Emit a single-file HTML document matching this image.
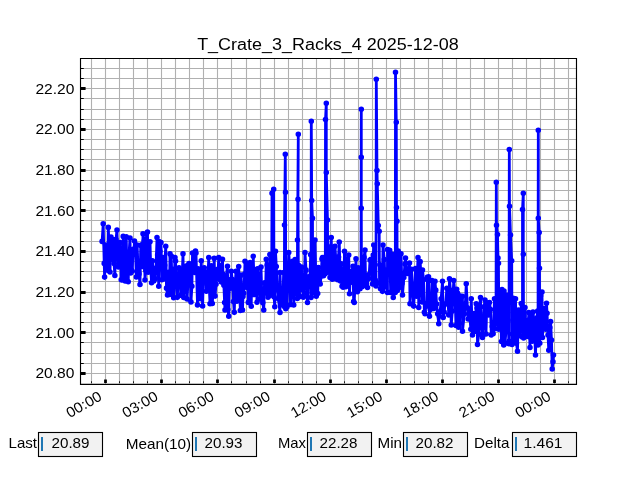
<!DOCTYPE html>
<html><head><meta charset="utf-8"><title>T_Crate_3_Racks_4 2025-12-08</title><style>
html,body{margin:0;padding:0;background:#fff;}
body{width:640px;height:480px;overflow:hidden;position:relative;font-family:"Liberation Sans",sans-serif;}
svg{position:absolute;left:0;top:0;display:block;will-change:transform;}
text{font-family:"Liberation Sans",sans-serif;fill:#000;}
</style></head><body>
<svg width="640" height="480" viewBox="0 0 640 480">
<rect x="0" y="0" width="640" height="480" fill="#fff"/>
<path d="M80 68.5H576M80 78.5H576M80 88.5H576M80 98.5H576M80 109.5H576M80 119.5H576M80 129.5H576M80 139.5H576M80 149.5H576M80 159.5H576M80 170.5H576M80 180.5H576M80 190.5H576M80 200.5H576M80 210.5H576M80 220.5H576M80 231.5H576M80 241.5H576M80 251.5H576M80 261.5H576M80 271.5H576M80 281.5H576M80 292.5H576M80 302.5H576M80 312.5H576M80 322.5H576M80 332.5H576M80 342.5H576M80 353.5H576M80 363.5H576M80 373.5H576M91.5 58V384M105.5 58V384M119.5 58V384M133.5 58V384M147.5 58V384M161.5 58V384M175.5 58V384M189.5 58V384M203.5 58V384M217.5 58V384M231.5 58V384M246.5 58V384M260.5 58V384M274.5 58V384M288.5 58V384M302.5 58V384M316.5 58V384M330.5 58V384M344.5 58V384M358.5 58V384M372.5 58V384M386.5 58V384M400.5 58V384M414.5 58V384M428.5 58V384M442.5 58V384M456.5 58V384M470.5 58V384M484.5 58V384M498.5 58V384M512.5 58V384M526.5 58V384M540.5 58V384M554.5 58V384M568.5 58V384" stroke="#b0b0b0" stroke-width="1.11" fill="none"/>
<g><path d="M102.10 241.40 L103.20 223.80 L104.20 263.40 L104.60 277.10 L105.60 245.00 L106.80 262.00 L107.60 270.30 L108.30 227.40 L109.20 250.00 L110.00 272.00 L111.00 237.09 L111.86 259.23 L112.94 239.60 L114.01 263.44 L114.87 275.54 L115.91 239.55 L117.00 230.00 L117.66 253.73 L118.45 267.03 L119.33 263.80 L120.17 242.60 L121.23 279.87 L122.50 280.00 L123.21 236.40 L124.17 256.80 L125.13 280.89 L126.25 236.75 L126.84 267.78 L128.25 281.75 L128.84 256.89 L130.00 238.00 L130.68 272.88 L131.52 270.17 L132.27 271.24 L133.04 249.31 L133.96 250.89 L134.50 241.00 L135.57 254.59 L136.34 276.97 L137.14 245.11 L138.10 269.57 L138.96 273.90 L140.00 284.50 L140.74 245.40 L141.48 244.81 L142.37 266.42 L143.00 233.75 L144.18 240.97 L145.00 280.00 L145.78 270.52 L146.50 233.44 L147.50 232.00 L148.15 272.30 L149.04 269.75 L150.03 241.70 L150.78 270.54 L151.56 282.75 L152.43 260.90 L153.75 281.00 L154.23 269.24 L155.23 278.88 L155.99 268.00 L157.00 237.50 L157.63 254.89 L158.75 286.25 L159.14 241.60 L159.87 251.19 L161.00 242.50 L161.88 279.83 L162.79 257.55 L163.77 278.88 L164.65 265.30 L165.75 246.25 L166.50 288.15 L167.50 295.00 L168.41 272.26 L169.44 294.38 L170.00 253.75 L171.29 255.98 L172.14 292.82 L172.93 269.24 L173.67 297.79 L175.00 257.50 L175.56 260.94 L176.38 282.73 L177.31 297.36 L178.21 280.46 L179.04 267.90 L179.82 269.32 L180.76 295.21 L181.80 284.16 L183.00 253.75 L183.75 297.50 L184.38 290.66 L185.22 267.79 L186.03 265.91 L187.09 298.94 L187.95 283.57 L188.99 263.43 L190.03 265.48 L190.99 301.97 L191.91 286.34 L192.50 253.00 L193.88 267.96 L194.72 272.54 L195.51 251.08 L196.00 253.00 L197.50 305.00 L198.10 268.90 L199.12 291.52 L200.13 298.80 L201.25 260.75 L201.78 284.75 L202.61 305.92 L203.39 275.73 L204.24 267.79 L205.32 271.83 L206.32 291.23 L207.39 287.91 L208.75 257.50 L209.34 289.17 L210.00 303.75 L211.34 265.85 L212.31 303.59 L213.16 290.48 L214.22 258.39 L215.08 296.12 L216.05 284.34 L217.02 269.41 L217.87 275.62 L218.75 257.50 L219.64 279.56 L220.37 265.70 L221.39 282.09 L222.50 259.25 L222.99 274.28 L223.86 285.20 L224.59 302.47 L225.00 310.00 L226.19 276.21 L227.50 266.25 L227.87 309.52 L228.75 316.25 L229.54 279.79 L230.62 288.29 L231.25 271.25 L232.39 279.62 L233.44 301.42 L234.28 312.35 L235.22 282.68 L236.00 271.25 L236.91 301.23 L237.79 297.01 L238.71 266.55 L239.44 288.33 L240.34 310.53 L241.09 275.13 L242.50 310.00 L242.99 296.40 L243.76 293.20 L244.58 274.06 L245.00 261.25 L246.46 287.37 L247.44 263.14 L248.31 302.40 L249.33 282.34 L250.16 262.45 L251.25 306.25 L251.82 267.08 L252.57 294.53 L253.25 256.25 L254.43 294.43 L255.19 269.74 L256.24 276.45 L256.97 302.17 L257.50 268.75 L259.02 278.81 L260.10 298.99 L261.03 267.08 L261.96 299.46 L262.79 302.80 L263.75 310.00 L264.51 282.89 L265.54 293.02 L266.25 259.25 L267.15 265.07 L268.03 297.34 L268.75 296.25 L269.87 254.46 L270.60 272.96 L271.37 286.62 L271.60 294.27 L272.00 193.30 L273.70 189.20 L274.00 296.85 L274.79 306.67 L275.50 251.25 L276.31 266.44 L277.39 286.67 L278.40 298.85 L280.00 312.50 L280.00 272.50 L281.07 304.72 L281.80 297.04 L282.84 300.21 L283.63 272.57 L284.30 306.45 L284.50 225.00 L285.30 154.20 L285.50 192.20 L285.80 308.82 L286.10 275.50 L286.96 306.96 L287.77 283.28 L288.75 252.50 L289.66 265.75 L290.49 304.58 L291.30 287.56 L292.50 261.25 L293.75 305.00 L294.28 286.99 L295.05 259.60 L295.80 279.45 L296.53 293.48 L297.30 298.52 L297.50 240.00 L298.30 134.20 L298.00 199.20 L298.50 297.24 L298.53 265.30 L299.41 295.90 L300.44 272.55 L301.44 267.15 L302.52 289.60 L303.35 297.16 L304.33 284.09 L305.00 252.50 L306.07 270.15 L306.81 293.06 L307.50 302.50 L308.66 276.72 L309.74 282.79 L310.66 254.63 L311.00 297.56 L311.30 121.20 L311.70 200.50 L312.50 218.30 L312.70 292.79 L313.43 259.07 L314.43 291.03 L315.00 240.00 L316.25 296.25 L316.98 279.44 L317.72 293.52 L318.50 267.50 L319.24 279.52 L320.21 283.97 L321.16 276.26 L321.93 259.10 L322.50 257.50 L323.58 275.81 L324.44 257.54 L325.00 273.75 L325.30 268.39 L325.50 119.50 L326.30 103.30 L326.30 172.50 L327.50 220.00 L327.80 272.37 L328.22 251.07 L329.25 250.44 L330.01 277.50 L330.74 246.70 L331.25 237.50 L332.22 279.20 L332.95 250.26 L333.75 278.75 L335.00 246.25 L336.01 261.87 L336.86 274.41 L337.64 279.66 L338.55 256.77 L339.25 242.00 L340.38 281.05 L341.19 263.68 L342.00 286.25 L343.13 287.15 L343.89 276.98 L344.50 251.25 L345.79 286.76 L346.87 258.98 L347.64 284.27 L348.75 255.00 L349.50 293.75 L350.14 279.66 L351.20 282.16 L351.94 271.36 L353.00 266.25 L353.62 301.45 L354.25 302.50 L356.00 258.75 L356.57 288.40 L357.41 291.71 L358.20 267.76 L359.07 285.32 L360.00 288.75 L361.00 287.10 L361.30 109.20 L361.30 157.20 L361.30 208.30 L361.50 285.74 L362.09 286.78 L363.10 280.75 L364.03 257.38 L365.00 250.00 L365.63 283.46 L366.50 276.24 L367.50 287.50 L368.22 274.87 L368.96 278.59 L370.00 260.00 L370.96 259.19 L371.70 265.29 L372.49 284.04 L373.25 255.06 L373.75 245.00 L375.24 279.92 L376.00 286.09 L376.30 79.20 L377.00 170.50 L377.30 183.70 L378.30 225.50 L379.20 231.30 L379.50 282.97 L379.85 264.84 L380.50 288.75 L381.59 267.69 L382.46 291.35 L383.00 245.00 L384.29 259.62 L385.12 286.91 L386.00 270.10 L387.50 292.50 L387.50 249.50 L388.78 269.63 L389.69 250.22 L390.64 292.38 L391.69 273.68 L392.58 254.23 L393.25 297.50 L394.29 293.09 L395.09 281.65 L395.30 292.40 L395.50 72.20 L396.30 122.20 L396.50 207.50 L397.00 221.30 L397.30 290.46 L397.50 251.25 L398.20 250.94 L399.19 269.24 L400.25 287.23 L401.00 253.75 L401.94 283.46 L402.50 295.00 L403.86 277.62 L404.91 263.91 L405.50 258.00 L406.76 273.20 L407.53 273.49 L408.43 270.88 L409.50 263.00 L410.00 303.75 L411.52 269.36 L412.59 289.54 L413.66 306.12 L414.72 289.54 L415.51 268.55 L416.49 296.20 L417.43 270.76 L418.00 257.50 L418.75 307.50 L420.16 261.65 L421.20 278.73 L422.10 302.08 L422.50 270.00 L423.62 279.72 L424.34 312.22 L425.00 313.75 L426.14 303.59 L426.90 306.01 L427.50 277.00 L428.51 276.77 L429.50 316.25 L430.27 309.50 L431.26 306.01 L432.01 280.64 L433.02 296.57 L433.84 308.44 L435.00 281.25 L435.78 290.13 L436.58 304.09 L437.64 313.85 L438.75 323.75 L439.32 315.92 L440.19 311.64 L441.14 298.79 L442.50 281.25 L443.24 317.39 L444.14 312.10 L445.06 304.15 L445.80 303.71 L446.79 288.18 L447.73 295.85 L448.77 315.06 L449.50 278.75 L450.45 290.22 L451.25 325.00 L452.28 311.11 L453.04 294.66 L453.75 280.50 L454.91 292.58 L455.96 325.56 L456.73 289.16 L457.50 293.00 L458.66 327.32 L459.52 323.41 L460.45 295.97 L461.36 313.35 L462.50 296.25 L462.50 331.25 L464.32 314.03 L465.37 303.48 L466.25 283.75 L467.41 307.86 L468.13 318.91 L469.16 308.95 L470.01 319.18 L470.84 329.31 L471.25 298.75 L472.50 335.00 L473.38 314.98 L474.36 313.51 L475.35 331.30 L476.25 303.75 L477.03 307.91 L477.50 344.50 L478.74 334.08 L479.56 306.47 L480.50 297.50 L481.32 326.00 L482.50 337.50 L483.11 327.52 L484.07 306.81 L485.00 300.00 L486.00 334.04 L486.74 307.05 L487.56 304.51 L488.56 314.89 L489.50 302.50 L490.56 309.54 L491.25 335.00 L492.29 326.53 L493.15 333.70 L494.50 298.75 L495.00 328.75 L496.00 323.03 L496.30 182.20 L496.50 225.30 L497.50 234.50 L498.00 258.00 L498.50 263.30 L498.80 329.13 L499.70 325.86 L500.43 290.01 L501.39 341.58 L502.00 289.50 L503.75 345.00 L504.00 291.00 L505.03 343.41 L506.07 330.16 L506.96 295.21 L507.99 320.35 L508.98 343.71 L509.00 341.32 L509.30 149.50 L509.50 206.20 L510.50 235.00 L511.70 260.80 L512.00 344.58 L512.42 334.07 L513.27 298.18 L514.01 342.07 L515.00 311.68 L515.50 298.75 L516.49 343.28 L517.50 351.25 L518.43 309.99 L519.40 335.77 L520.17 326.16 L521.25 303.61 L522.18 318.59 L522.50 337.28 L522.50 209.50 L523.30 193.30 L523.30 254.20 L523.60 337.99 L523.87 315.83 L525.00 307.50 L525.51 334.19 L526.25 336.25 L527.31 320.27 L528.04 336.56 L528.75 312.50 L530.00 347.50 L530.66 314.07 L531.40 338.45 L532.21 341.23 L533.00 312.00 L534.22 323.38 L535.50 355.00 L535.97 340.79 L536.79 318.06 L537.68 311.07 L538.00 345.03 L538.30 130.30 L538.30 218.30 L539.20 232.50 L539.50 268.30 L539.80 343.20 L540.59 295.73 L542.00 292.00 L542.50 337.50 L543.56 312.53 L544.54 308.56 L545.56 329.18 L546.50 303.20 L547.07 313.37 L547.99 335.06 L548.75 350.20 L549.86 327.56 L550.60 321.60 L551.50 340.00 L552.20 369.00 L553.00 361.70 L553.50 355.00" stroke="#0000ff" stroke-width="2.78" stroke-linejoin="round" stroke-linecap="square" fill="none"/>
<path d="M102.10 241.40h0M103.20 223.80h0M104.20 263.40h0M104.60 277.10h0M105.60 245.00h0M106.80 262.00h0M107.60 270.30h0M108.30 227.40h0M109.20 250.00h0M110.00 272.00h0M111.00 237.09h0M111.86 259.23h0M112.94 239.60h0M114.01 263.44h0M114.87 275.54h0M115.91 239.55h0M117.00 230.00h0M117.66 253.73h0M118.45 267.03h0M119.33 263.80h0M120.17 242.60h0M121.23 279.87h0M122.50 280.00h0M123.21 236.40h0M124.17 256.80h0M125.13 280.89h0M126.25 236.75h0M126.84 267.78h0M128.25 281.75h0M128.84 256.89h0M130.00 238.00h0M130.68 272.88h0M131.52 270.17h0M132.27 271.24h0M133.04 249.31h0M133.96 250.89h0M134.50 241.00h0M135.57 254.59h0M136.34 276.97h0M137.14 245.11h0M138.10 269.57h0M138.96 273.90h0M140.00 284.50h0M140.74 245.40h0M141.48 244.81h0M142.37 266.42h0M143.00 233.75h0M144.18 240.97h0M145.00 280.00h0M145.78 270.52h0M146.50 233.44h0M147.50 232.00h0M148.15 272.30h0M149.04 269.75h0M150.03 241.70h0M150.78 270.54h0M151.56 282.75h0M152.43 260.90h0M153.75 281.00h0M154.23 269.24h0M155.23 278.88h0M155.99 268.00h0M157.00 237.50h0M157.63 254.89h0M158.75 286.25h0M159.14 241.60h0M159.87 251.19h0M161.00 242.50h0M161.88 279.83h0M162.79 257.55h0M163.77 278.88h0M164.65 265.30h0M165.75 246.25h0M166.50 288.15h0M167.50 295.00h0M168.41 272.26h0M169.44 294.38h0M170.00 253.75h0M171.29 255.98h0M172.14 292.82h0M172.93 269.24h0M173.67 297.79h0M175.00 257.50h0M175.56 260.94h0M176.38 282.73h0M177.31 297.36h0M178.21 280.46h0M179.04 267.90h0M179.82 269.32h0M180.76 295.21h0M181.80 284.16h0M183.00 253.75h0M183.75 297.50h0M184.38 290.66h0M185.22 267.79h0M186.03 265.91h0M187.09 298.94h0M187.95 283.57h0M188.99 263.43h0M190.03 265.48h0M190.99 301.97h0M191.91 286.34h0M192.50 253.00h0M193.88 267.96h0M194.72 272.54h0M195.51 251.08h0M196.00 253.00h0M197.50 305.00h0M198.10 268.90h0M199.12 291.52h0M200.13 298.80h0M201.25 260.75h0M201.78 284.75h0M202.61 305.92h0M203.39 275.73h0M204.24 267.79h0M205.32 271.83h0M206.32 291.23h0M207.39 287.91h0M208.75 257.50h0M209.34 289.17h0M210.00 303.75h0M211.34 265.85h0M212.31 303.59h0M213.16 290.48h0M214.22 258.39h0M215.08 296.12h0M216.05 284.34h0M217.02 269.41h0M217.87 275.62h0M218.75 257.50h0M219.64 279.56h0M220.37 265.70h0M221.39 282.09h0M222.50 259.25h0M222.99 274.28h0M223.86 285.20h0M224.59 302.47h0M225.00 310.00h0M226.19 276.21h0M227.50 266.25h0M227.87 309.52h0M228.75 316.25h0M229.54 279.79h0M230.62 288.29h0M231.25 271.25h0M232.39 279.62h0M233.44 301.42h0M234.28 312.35h0M235.22 282.68h0M236.00 271.25h0M236.91 301.23h0M237.79 297.01h0M238.71 266.55h0M239.44 288.33h0M240.34 310.53h0M241.09 275.13h0M242.50 310.00h0M242.99 296.40h0M243.76 293.20h0M244.58 274.06h0M245.00 261.25h0M246.46 287.37h0M247.44 263.14h0M248.31 302.40h0M249.33 282.34h0M250.16 262.45h0M251.25 306.25h0M251.82 267.08h0M252.57 294.53h0M253.25 256.25h0M254.43 294.43h0M255.19 269.74h0M256.24 276.45h0M256.97 302.17h0M257.50 268.75h0M259.02 278.81h0M260.10 298.99h0M261.03 267.08h0M261.96 299.46h0M262.79 302.80h0M263.75 310.00h0M264.51 282.89h0M265.54 293.02h0M266.25 259.25h0M267.15 265.07h0M268.03 297.34h0M268.75 296.25h0M269.87 254.46h0M270.60 272.96h0M271.37 286.62h0M271.60 294.27h0M272.00 193.30h0M273.70 189.20h0M274.00 296.85h0M274.79 306.67h0M275.50 251.25h0M276.31 266.44h0M277.39 286.67h0M278.40 298.85h0M280.00 312.50h0M280.00 272.50h0M281.07 304.72h0M281.80 297.04h0M282.84 300.21h0M283.63 272.57h0M284.30 306.45h0M284.50 225.00h0M285.30 154.20h0M285.50 192.20h0M285.80 308.82h0M286.10 275.50h0M286.96 306.96h0M287.77 283.28h0M288.75 252.50h0M289.66 265.75h0M290.49 304.58h0M291.30 287.56h0M292.50 261.25h0M293.75 305.00h0M294.28 286.99h0M295.05 259.60h0M295.80 279.45h0M296.53 293.48h0M297.30 298.52h0M297.50 240.00h0M298.30 134.20h0M298.00 199.20h0M298.50 297.24h0M298.53 265.30h0M299.41 295.90h0M300.44 272.55h0M301.44 267.15h0M302.52 289.60h0M303.35 297.16h0M304.33 284.09h0M305.00 252.50h0M306.07 270.15h0M306.81 293.06h0M307.50 302.50h0M308.66 276.72h0M309.74 282.79h0M310.66 254.63h0M311.00 297.56h0M311.30 121.20h0M311.70 200.50h0M312.50 218.30h0M312.70 292.79h0M313.43 259.07h0M314.43 291.03h0M315.00 240.00h0M316.25 296.25h0M316.98 279.44h0M317.72 293.52h0M318.50 267.50h0M319.24 279.52h0M320.21 283.97h0M321.16 276.26h0M321.93 259.10h0M322.50 257.50h0M323.58 275.81h0M324.44 257.54h0M325.00 273.75h0M325.30 268.39h0M325.50 119.50h0M326.30 103.30h0M326.30 172.50h0M327.50 220.00h0M327.80 272.37h0M328.22 251.07h0M329.25 250.44h0M330.01 277.50h0M330.74 246.70h0M331.25 237.50h0M332.22 279.20h0M332.95 250.26h0M333.75 278.75h0M335.00 246.25h0M336.01 261.87h0M336.86 274.41h0M337.64 279.66h0M338.55 256.77h0M339.25 242.00h0M340.38 281.05h0M341.19 263.68h0M342.00 286.25h0M343.13 287.15h0M343.89 276.98h0M344.50 251.25h0M345.79 286.76h0M346.87 258.98h0M347.64 284.27h0M348.75 255.00h0M349.50 293.75h0M350.14 279.66h0M351.20 282.16h0M351.94 271.36h0M353.00 266.25h0M353.62 301.45h0M354.25 302.50h0M356.00 258.75h0M356.57 288.40h0M357.41 291.71h0M358.20 267.76h0M359.07 285.32h0M360.00 288.75h0M361.00 287.10h0M361.30 109.20h0M361.30 157.20h0M361.30 208.30h0M361.50 285.74h0M362.09 286.78h0M363.10 280.75h0M364.03 257.38h0M365.00 250.00h0M365.63 283.46h0M366.50 276.24h0M367.50 287.50h0M368.22 274.87h0M368.96 278.59h0M370.00 260.00h0M370.96 259.19h0M371.70 265.29h0M372.49 284.04h0M373.25 255.06h0M373.75 245.00h0M375.24 279.92h0M376.00 286.09h0M376.30 79.20h0M377.00 170.50h0M377.30 183.70h0M378.30 225.50h0M379.20 231.30h0M379.50 282.97h0M379.85 264.84h0M380.50 288.75h0M381.59 267.69h0M382.46 291.35h0M383.00 245.00h0M384.29 259.62h0M385.12 286.91h0M386.00 270.10h0M387.50 292.50h0M387.50 249.50h0M388.78 269.63h0M389.69 250.22h0M390.64 292.38h0M391.69 273.68h0M392.58 254.23h0M393.25 297.50h0M394.29 293.09h0M395.09 281.65h0M395.30 292.40h0M395.50 72.20h0M396.30 122.20h0M396.50 207.50h0M397.00 221.30h0M397.30 290.46h0M397.50 251.25h0M398.20 250.94h0M399.19 269.24h0M400.25 287.23h0M401.00 253.75h0M401.94 283.46h0M402.50 295.00h0M403.86 277.62h0M404.91 263.91h0M405.50 258.00h0M406.76 273.20h0M407.53 273.49h0M408.43 270.88h0M409.50 263.00h0M410.00 303.75h0M411.52 269.36h0M412.59 289.54h0M413.66 306.12h0M414.72 289.54h0M415.51 268.55h0M416.49 296.20h0M417.43 270.76h0M418.00 257.50h0M418.75 307.50h0M420.16 261.65h0M421.20 278.73h0M422.10 302.08h0M422.50 270.00h0M423.62 279.72h0M424.34 312.22h0M425.00 313.75h0M426.14 303.59h0M426.90 306.01h0M427.50 277.00h0M428.51 276.77h0M429.50 316.25h0M430.27 309.50h0M431.26 306.01h0M432.01 280.64h0M433.02 296.57h0M433.84 308.44h0M435.00 281.25h0M435.78 290.13h0M436.58 304.09h0M437.64 313.85h0M438.75 323.75h0M439.32 315.92h0M440.19 311.64h0M441.14 298.79h0M442.50 281.25h0M443.24 317.39h0M444.14 312.10h0M445.06 304.15h0M445.80 303.71h0M446.79 288.18h0M447.73 295.85h0M448.77 315.06h0M449.50 278.75h0M450.45 290.22h0M451.25 325.00h0M452.28 311.11h0M453.04 294.66h0M453.75 280.50h0M454.91 292.58h0M455.96 325.56h0M456.73 289.16h0M457.50 293.00h0M458.66 327.32h0M459.52 323.41h0M460.45 295.97h0M461.36 313.35h0M462.50 296.25h0M462.50 331.25h0M464.32 314.03h0M465.37 303.48h0M466.25 283.75h0M467.41 307.86h0M468.13 318.91h0M469.16 308.95h0M470.01 319.18h0M470.84 329.31h0M471.25 298.75h0M472.50 335.00h0M473.38 314.98h0M474.36 313.51h0M475.35 331.30h0M476.25 303.75h0M477.03 307.91h0M477.50 344.50h0M478.74 334.08h0M479.56 306.47h0M480.50 297.50h0M481.32 326.00h0M482.50 337.50h0M483.11 327.52h0M484.07 306.81h0M485.00 300.00h0M486.00 334.04h0M486.74 307.05h0M487.56 304.51h0M488.56 314.89h0M489.50 302.50h0M490.56 309.54h0M491.25 335.00h0M492.29 326.53h0M493.15 333.70h0M494.50 298.75h0M495.00 328.75h0M496.00 323.03h0M496.30 182.20h0M496.50 225.30h0M497.50 234.50h0M498.00 258.00h0M498.50 263.30h0M498.80 329.13h0M499.70 325.86h0M500.43 290.01h0M501.39 341.58h0M502.00 289.50h0M503.75 345.00h0M504.00 291.00h0M505.03 343.41h0M506.07 330.16h0M506.96 295.21h0M507.99 320.35h0M508.98 343.71h0M509.00 341.32h0M509.30 149.50h0M509.50 206.20h0M510.50 235.00h0M511.70 260.80h0M512.00 344.58h0M512.42 334.07h0M513.27 298.18h0M514.01 342.07h0M515.00 311.68h0M515.50 298.75h0M516.49 343.28h0M517.50 351.25h0M518.43 309.99h0M519.40 335.77h0M520.17 326.16h0M521.25 303.61h0M522.18 318.59h0M522.50 337.28h0M522.50 209.50h0M523.30 193.30h0M523.30 254.20h0M523.60 337.99h0M523.87 315.83h0M525.00 307.50h0M525.51 334.19h0M526.25 336.25h0M527.31 320.27h0M528.04 336.56h0M528.75 312.50h0M530.00 347.50h0M530.66 314.07h0M531.40 338.45h0M532.21 341.23h0M533.00 312.00h0M534.22 323.38h0M535.50 355.00h0M535.97 340.79h0M536.79 318.06h0M537.68 311.07h0M538.00 345.03h0M538.30 130.30h0M538.30 218.30h0M539.20 232.50h0M539.50 268.30h0M539.80 343.20h0M540.59 295.73h0M542.00 292.00h0M542.50 337.50h0M543.56 312.53h0M544.54 308.56h0M545.56 329.18h0M546.50 303.20h0M547.07 313.37h0M547.99 335.06h0M548.75 350.20h0M549.86 327.56h0M550.60 321.60h0M551.50 340.00h0M552.20 369.00h0M553.00 361.70h0M553.50 355.00h0" stroke="#0000ff" stroke-width="5.56" stroke-linecap="round" fill="none"/></g>
<path d="M81 372.11h4.6v2.78h-4.6zM81 331.11h4.6v2.78h-4.6zM81 291.11h4.6v2.78h-4.6zM81 250.11h4.6v2.78h-4.6zM81 209.11h4.6v2.78h-4.6zM81 169.11h4.6v2.78h-4.6zM81 128.11h4.6v2.78h-4.6zM81 87.11h4.6v2.78h-4.6zM81 68.085h2.78v0.83h-2.78zM81 78.085h2.78v0.83h-2.78zM81 98.085h2.78v0.83h-2.78zM81 109.085h2.78v0.83h-2.78zM81 119.085h2.78v0.83h-2.78zM81 139.085h2.78v0.83h-2.78zM81 149.085h2.78v0.83h-2.78zM81 159.085h2.78v0.83h-2.78zM81 180.085h2.78v0.83h-2.78zM81 190.085h2.78v0.83h-2.78zM81 200.085h2.78v0.83h-2.78zM81 220.085h2.78v0.83h-2.78zM81 231.085h2.78v0.83h-2.78zM81 241.085h2.78v0.83h-2.78zM81 261.085h2.78v0.83h-2.78zM81 271.085h2.78v0.83h-2.78zM81 281.085h2.78v0.83h-2.78zM81 302.085h2.78v0.83h-2.78zM81 312.085h2.78v0.83h-2.78zM81 322.085h2.78v0.83h-2.78zM81 342.085h2.78v0.83h-2.78zM81 353.085h2.78v0.83h-2.78zM81 363.085h2.78v0.83h-2.78zM104.11 379.4h2.78v3.6h-2.78zM160.11 379.4h2.78v3.6h-2.78zM216.11 379.4h2.78v3.6h-2.78zM273.11 379.4h2.78v3.6h-2.78zM329.11 379.4h2.78v3.6h-2.78zM385.11 379.4h2.78v3.6h-2.78zM441.11 379.4h2.78v3.6h-2.78zM497.11 379.4h2.78v3.6h-2.78zM553.11 379.4h2.78v3.6h-2.78zM91.085 381.3h0.83v1.7h-0.83zM119.085 381.3h0.83v1.7h-0.83zM133.085 381.3h0.83v1.7h-0.83zM147.085 381.3h0.83v1.7h-0.83zM175.085 381.3h0.83v1.7h-0.83zM189.085 381.3h0.83v1.7h-0.83zM203.085 381.3h0.83v1.7h-0.83zM231.085 381.3h0.83v1.7h-0.83zM246.085 381.3h0.83v1.7h-0.83zM260.085 381.3h0.83v1.7h-0.83zM288.085 381.3h0.83v1.7h-0.83zM302.085 381.3h0.83v1.7h-0.83zM316.085 381.3h0.83v1.7h-0.83zM344.085 381.3h0.83v1.7h-0.83zM358.085 381.3h0.83v1.7h-0.83zM372.085 381.3h0.83v1.7h-0.83zM400.085 381.3h0.83v1.7h-0.83zM414.085 381.3h0.83v1.7h-0.83zM428.085 381.3h0.83v1.7h-0.83zM456.085 381.3h0.83v1.7h-0.83zM470.085 381.3h0.83v1.7h-0.83zM484.085 381.3h0.83v1.7h-0.83zM512.085 381.3h0.83v1.7h-0.83zM526.085 381.3h0.83v1.7h-0.83zM540.085 381.3h0.83v1.7h-0.83zM568.085 381.3h0.83v1.7h-0.83z" fill="#000"/>
<path d="M79.945 57.945H81.075V385.055H79.945zM575.925 57.945H577.055V385.055H575.925zM79.945 57.945H577.055V59.075H79.945zM79.945 383.65H577.055V385.055H79.945z" fill="#000"/>
<text x="327.9" y="49.7" font-size="17.3" text-anchor="middle" textLength="261.5" lengthAdjust="spacingAndGlyphs">T_Crate_3_Racks_4 2025-12-08</text>
<text x="74.4" y="377.9" font-size="14.6" text-anchor="end" textLength="39.0" lengthAdjust="spacingAndGlyphs">20.80</text>
<text x="74.4" y="337.9" font-size="14.6" text-anchor="end" textLength="39.0" lengthAdjust="spacingAndGlyphs">21.00</text>
<text x="74.4" y="296.9" font-size="14.6" text-anchor="end" textLength="39.0" lengthAdjust="spacingAndGlyphs">21.20</text>
<text x="74.4" y="255.9" font-size="14.6" text-anchor="end" textLength="39.0" lengthAdjust="spacingAndGlyphs">21.40</text>
<text x="74.4" y="215.9" font-size="14.6" text-anchor="end" textLength="39.0" lengthAdjust="spacingAndGlyphs">21.60</text>
<text x="74.4" y="174.9" font-size="14.6" text-anchor="end" textLength="39.0" lengthAdjust="spacingAndGlyphs">21.80</text>
<text x="74.4" y="133.9" font-size="14.6" text-anchor="end" textLength="39.0" lengthAdjust="spacingAndGlyphs">22.00</text>
<text x="74.4" y="93.9" font-size="14.6" text-anchor="end" textLength="39.0" lengthAdjust="spacingAndGlyphs">22.20</text>
<text transform="translate(103.00 399.1) rotate(-30)" x="0" y="0" font-size="14.6" text-anchor="end" textLength="38.5" lengthAdjust="spacingAndGlyphs">00:00</text>
<text transform="translate(159.13 399.1) rotate(-30)" x="0" y="0" font-size="14.6" text-anchor="end" textLength="38.5" lengthAdjust="spacingAndGlyphs">03:00</text>
<text transform="translate(215.26 399.1) rotate(-30)" x="0" y="0" font-size="14.6" text-anchor="end" textLength="38.5" lengthAdjust="spacingAndGlyphs">06:00</text>
<text transform="translate(271.39 399.1) rotate(-30)" x="0" y="0" font-size="14.6" text-anchor="end" textLength="38.5" lengthAdjust="spacingAndGlyphs">09:00</text>
<text transform="translate(327.52 399.1) rotate(-30)" x="0" y="0" font-size="14.6" text-anchor="end" textLength="38.5" lengthAdjust="spacingAndGlyphs">12:00</text>
<text transform="translate(383.65 399.1) rotate(-30)" x="0" y="0" font-size="14.6" text-anchor="end" textLength="38.5" lengthAdjust="spacingAndGlyphs">15:00</text>
<text transform="translate(439.78 399.1) rotate(-30)" x="0" y="0" font-size="14.6" text-anchor="end" textLength="38.5" lengthAdjust="spacingAndGlyphs">18:00</text>
<text transform="translate(495.91 399.1) rotate(-30)" x="0" y="0" font-size="14.6" text-anchor="end" textLength="38.5" lengthAdjust="spacingAndGlyphs">21:00</text>
<text transform="translate(552.04 399.1) rotate(-30)" x="0" y="0" font-size="14.6" text-anchor="end" textLength="38.5" lengthAdjust="spacingAndGlyphs">00:00</text>
<rect x="38.5" y="432.5" width="64" height="24" fill="#f2f2f2" stroke="#000" stroke-width="1.11"/>
<rect x="41" y="437" width="2" height="14" fill="#1f77b4" transform="translate(0 0)"/>
<text x="37" y="448" font-size="14.6" text-anchor="end" textLength="28.5" lengthAdjust="spacingAndGlyphs">Last</text>
<text x="51.5" y="448" font-size="14.6" textLength="38" lengthAdjust="spacingAndGlyphs">20.89</text>
<rect x="192.5" y="432.5" width="64" height="24" fill="#f2f2f2" stroke="#000" stroke-width="1.11"/>
<rect x="41" y="437" width="2" height="14" fill="#1f77b4" transform="translate(154 0)"/>
<text x="191.2" y="448.8" font-size="14.6" text-anchor="end" textLength="65.5" lengthAdjust="spacingAndGlyphs">Mean(10)</text>
<text x="204.5" y="448" font-size="14.6" textLength="38" lengthAdjust="spacingAndGlyphs">20.93</text>
<rect x="307.5" y="432.5" width="64" height="24" fill="#f2f2f2" stroke="#000" stroke-width="1.11"/>
<rect x="41" y="437" width="2" height="14" fill="#1f77b4" transform="translate(269 0)"/>
<text x="306" y="448" font-size="14.6" text-anchor="end" textLength="28" lengthAdjust="spacingAndGlyphs">Max</text>
<text x="319.5" y="448" font-size="14.6" textLength="38" lengthAdjust="spacingAndGlyphs">22.28</text>
<rect x="403.5" y="432.5" width="64" height="24" fill="#f2f2f2" stroke="#000" stroke-width="1.11"/>
<rect x="41" y="437" width="2" height="14" fill="#1f77b4" transform="translate(365 0)"/>
<text x="402" y="448" font-size="14.6" text-anchor="end" textLength="24.5" lengthAdjust="spacingAndGlyphs">Min</text>
<text x="415.5" y="448" font-size="14.6" textLength="38" lengthAdjust="spacingAndGlyphs">20.82</text>
<rect x="512.5" y="432.5" width="64" height="24" fill="#f2f2f2" stroke="#000" stroke-width="1.11"/>
<rect x="41" y="437" width="2" height="14" fill="#1f77b4" transform="translate(474 0)"/>
<text x="509.5" y="448" font-size="14.6" text-anchor="end" textLength="35.5" lengthAdjust="spacingAndGlyphs">Delta</text>
<text x="523.5" y="448" font-size="14.6" textLength="39" lengthAdjust="spacingAndGlyphs">1.461</text>
</svg>
</body></html>
